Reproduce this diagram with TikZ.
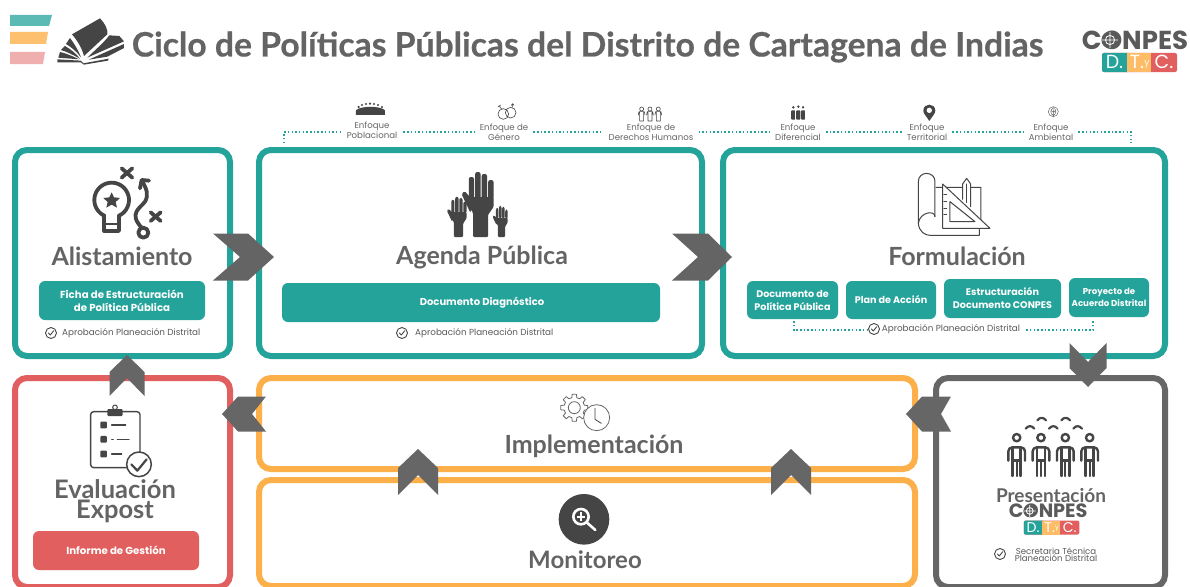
\documentclass[tikz,border=0pt]{standalone}
\usepackage{fontspec}
\setmainfont{Poppins}
\newfontfamily\hd{Lato}
\newfontfamily\hdt[BoldFeatures={FakeBold=0.5}]{Lato}
\definecolor{tealb}{HTML}{24A39B}
\definecolor{redb}{HTML}{E15F5F}
\definecolor{orab}{HTML}{FDB04A}
\definecolor{greyb}{HTML}{666666}
\definecolor{dark}{HTML}{454545}
\definecolor{headc}{HTML}{646464}
\definecolor{smallc}{HTML}{5A5A5A}
\tikzset{
  bigbox/.style={draw,line width=6pt,rounded corners=12pt,fill=none,inner sep=0pt},
  smallbox/.style={rounded corners=6pt,text=white,align=center,inner sep=0pt,font=\bfseries\fontsize{9.6}{13}\selectfont},
  heading/.style={text=headc,inner sep=0pt,font=\hd\bfseries\fontsize{25}{25}\selectfont},
  approval/.style={text=smallc,inner sep=0pt,font=\fontsize{8.8}{9}\selectfont},
  enfoque/.style={text=greyb,inner sep=0pt,align=center,font=\fontsize{8.6}{8.2}\selectfont},
  dots/.style={tealb,line width=1.5pt,dash pattern=on 1.5pt off 2.2pt},
  zoomat/.style 2 args={shift={(#1,#2)},x=.3333pt,y=-.3333pt},
  icon/.style={draw=dark,line width=#1,line cap=round,line join=round},
}
\newcommand{\chev}[7]{% anchor, rotation, tail, tip, half height, notch, colour
  \begin{scope}[shift={(#1)},rotate=#2]
    \fill[#7] (-#3,#5) -- (0,#5) -- (#4,0) -- (0,-#5) -- (-#3,-#5) -- ({-#3+#6},0) -- cycle;
  \end{scope}}
\newcommand{\chk}[2]{%
  \draw[icon=.9pt,fill=white] (#1,#2) circle[radius=5.5];
  \draw[icon=.9pt] (#1-2.6,#2) -- (#1-.7,#2+2) -- (#1+2.8,#2-2.4);}
\newcommand{\conpes}[4]{%
  \begin{scope}[shift={(#1,#2)},scale=#3]
    \node[anchor=center,inner sep=0pt,transform shape,text=smallc,font=\bfseries\fontsize{26}{26}\selectfont] (#4t) at (53,8) {CONPES};
    \fill[smallc] (28,8) circle[radius=8.6];
    \draw[white,line width=.8pt] (28,8) circle[radius=4.6] (20,8) -- (36,8) (28,0) -- (28,16);
    \fill[redb,rounded corners=2pt] (20,21) rectangle (95,40);
    \fill[tealb,rounded corners=2pt] (20,21) rectangle (48,40);
    \fill[orab!85!white] (45,21) rectangle (69,40);
    \node[transform shape,text=white,inner sep=0pt,font=\fontsize{19}{19}\selectfont] (#4a) at (32.5,30) {D.};
    \node[transform shape,text=white,inner sep=0pt,font=\fontsize{19}{19}\selectfont] (#4b) at (55,30) {T.};
    \node[transform shape,text=white,inner sep=0pt,font=\fontsize{9}{9}\selectfont] (#4c) at (65,32) {y};
    \node[transform shape,text=white,inner sep=0pt,font=\fontsize{19}{19}\selectfont] (#4d) at (82,30) {C.};
  \end{scope}}
\newcommand{\hand}[3]{%
  \begin{scope}[shift={(#1,#2)},scale=#3]
    \fill[dark,rounded corners=1pt] (-7.5,0) -- (-7.5,-24) -- (-12,-32) -- (-12,-40) -- (13,-40) -- (13,-30) -- (7.5,-22) -- (7.5,0) -- cycle;
    \fill[dark,rounded corners=1.5pt] (-10,-24) -- (-19,-43) -- (-16,-46) -- (-7,-36) -- cycle;
    \fill[dark,rounded corners=2pt] (-11.7,-38) rectangle (-6.5,-60);
    \fill[dark,rounded corners=2pt] (-5.3,-38) rectangle (0,-65);
    \fill[dark,rounded corners=2pt] (1.2,-38) rectangle (6.5,-63);
    \fill[dark,rounded corners=2pt] (7.7,-38) rectangle (13,-57);
  \end{scope}}
\newcommand{\person}[1]{%
  \begin{scope}[shift={(#1,0)}]
    \draw[icon=2.4pt] (0,203) circle[radius=11];
    \draw[icon=2.4pt,rounded corners=4pt] (-25,272) -- (-25,232) -- (25,232) -- (25,272);
    \draw[icon=2.4pt] (-12,236) -- (-12,318) (12,236) -- (12,318) (-12,272) -- (12,272);
    \draw[icon=2.2pt] (0,272) -- (0,318);
  \end{scope}}
\begin{document}
\begin{tikzpicture}[x=1pt,y=-1pt]
\useasboundingbox (0,0) rectangle (1190,586);
\clip (0,0) rectangle (1190,586);
\fill[white] (0,0) rectangle (1190,586);
% header bars
\fill[tealb!75!white] (10,15) -- (52,15) -- (49,26) -- (10,26) -- cycle;
\fill[orab!80!white] (10,32) -- (48,32) -- (46,44) -- (10,44) -- cycle;
\fill[redb!50!white] (10,52) -- (45,52) -- (43,64) -- (10,64) -- cycle;
% book
\begin{scope}[zoomat={50}{10}]
  \fill[dark] (66,73) -- (150,25) .. controls (165,40) and (175,60) .. (172,73) -- (102,138) .. controls (95,112) and (82,92) .. (66,73) -- cycle;
  \fill[dark] (178,76) -- (208,78) -- (222,94) -- (112,143) .. controls (135,120) and (160,100) .. (178,76) -- cycle;
  \fill[dark] (222,102) -- (222,114) -- (172,140) -- (116,149) -- cycle;
  \fill[dark] (60,84) .. controls (72,100) and (85,120) .. (93,142) .. controls (80,125) and (65,112) .. (48,102) -- cycle;
  \fill[dark] (45,108) .. controls (62,118) and (78,130) .. (90,146) .. controls (70,135) and (50,125) .. (33,120) -- cycle;
  \fill[dark] (30,126) .. controls (50,130) and (70,140) .. (88,148) -- (25,143) -- cycle;
  \fill[dark] (22,148) -- (92,152) -- (100,160) -- (176,146) -- (174,152) -- (102,164) -- (92,157) -- (22,157) -- cycle;
\end{scope}
\node[anchor=center,inner sep=0pt,text=headc,font=\hdt\bfseries\fontsize{33.7}{33.7}\selectfont] (title) at (587.5,47) {Ciclo de Políticas Públicas del Distrito de Cartagena de Indias};
\conpes{1082}{32}{1}{lg}
% big boxes
\node[bigbox,draw=tealb,minimum width=215pt,minimum height=206pt] (alist) at (122.5,253) {};
\node[bigbox,draw=tealb,minimum width=443pt,minimum height=206pt] (agenda) at (480.5,253) {};
\node[bigbox,draw=tealb,minimum width=442pt,minimum height=206pt] (form) at (944,253) {};
\node[bigbox,draw=redb,minimum width=215pt,minimum height=209pt] (eval) at (122.5,482.5) {};
\node[bigbox,draw=orab,minimum width=656pt,minimum height=91pt] (impl) at (587,423.5) {};
\node[bigbox,draw=orab,minimum width=656pt,minimum height=106pt] (moni) at (587,533) {};
\node[bigbox,draw=greyb,minimum width=229pt,minimum height=209pt] (pres) at (1050.5,482.5) {};
% enfoques
\node[enfoque] (e1) at (372,130) {Enfoque\\Poblacional};
\node[enfoque] (e2) at (504,132) {Enfoque de\\Género};
\node[enfoque] (e3) at (651,132) {Enfoque de\\Derechos Humanos};
\node[enfoque] (e4) at (798,132) {Enfoque\\Diferencial};
\node[enfoque] (e5) at (927,132) {Enfoque\\Territorial};
\node[enfoque] (e6) at (1051,132) {Enfoque\\Ambiental};
\coordinate (dl) at (284,143);
\coordinate (dr) at (1131,143);
\draw[dots] (dl) -- (dl |- e2.east) -- ([xshift=-5pt]e1.west |- e2.east);
\draw[dots] ([xshift=6pt]e1.east |- e2.east) -- ([xshift=-5pt]e2.west);
\draw[dots] ([xshift=5pt]e2.east) -- ([xshift=-5pt]e3.west);
\draw[dots] ([xshift=5pt]e3.east) -- ([xshift=-5pt]e4.west);
\draw[dots] ([xshift=5pt]e4.east) -- ([xshift=-5pt]e5.west);
\draw[dots] ([xshift=5pt]e5.east) -- ([xshift=-5pt]e6.west);
\draw[dots] ([xshift=5pt]e6.east) -- (dr |- e6.east) -- (dr);
% small enfoque icons
\begin{scope}[zoomat={270}{95}]
  \fill[dark] (258,60) -- (258,46) .. controls (270,32) and (333,32) .. (345,46) -- (345,60) -- cycle;
  \foreach \hx/\hy in {266/36,276/30,288/27,300/26,312/27,324/30,336/36} \fill[dark] (\hx,\hy) circle[radius=3.6];
  \draw[icon=.6pt] (700,57) circle[radius=16] (722,53) circle[radius=16];
  \draw[icon=.6pt] (728,37) -- (728,26) (724,31) -- (728,26) -- (732,31);
  \draw[icon=.6pt] (695,42) -- (688,33) (684,36) -- (692,30);
  \foreach \px in {1115,1140,1165}{
    \draw[icon=.6pt] (\px,42) circle[radius=6];
    \draw[icon=.6pt] (\px-10,60) -- (\px-8,50) -- (\px+8,50) -- (\px+10,60) (\px-6,52) -- (\px-6,78) -- (\px+6,78) -- (\px+6,52);
  }
\end{scope}
\begin{scope}[zoomat={700}{95}]
  \foreach \px/\py in {280/0,295/-2,309/0}{
    \fill[dark,rounded corners=1pt] (\px-7,46) rectangle (\px+7,74);
    \fill[dark] (\px,37+\py) circle[radius=4];
    \draw[white,line width=.4pt] (\px+7,46) -- (\px+7,74);
  }
  \fill[dark] (688,78) .. controls (678,62) and (670,56) .. (670,47) .. controls (670,23) and (706,23) .. (706,47) .. controls (706,56) and (698,62) .. (688,78) -- cycle;
  \fill[white] (688,46) circle[radius=8];
  \draw[icon=.5pt,draw=greyb] (1060,50) circle[radius=15];
  \draw[icon=.5pt,draw=greyb] (1060,38) .. controls (1072,46) and (1068,56) .. (1060,62) .. controls (1052,56) and (1048,46) .. (1060,38) -- cycle (1060,44) -- (1060,66) (1060,52) -- (1066,47) (1060,52) -- (1054,47);
\end{scope}
% Alistamiento
\begin{scope}[zoomat={0}{150}]
  \draw[icon=3.8pt] plot[domain=115:425,samples=40] ({335+52*cos(\x)},{150+52*sin(\x)});
  \draw[icon=3.8pt] (313,197) -- (313,243) -- (357,243) -- (357,197);
  \draw[icon=2.4pt] (313,222) -- (357,222);
  \fill[dark] (335,127) -- (342,142) -- (360,144) -- (347,156) -- (351,173) -- (335,164) -- (319,173) -- (323,156) -- (310,144) -- (328,142) -- cycle;
  \draw[icon=3.8pt] (365,55) -- (397,83) (397,55) -- (365,83);
  \draw[icon=3.8pt] (452,187) -- (482,213) (482,187) -- (452,213);
  \draw[icon=3.8pt] (430,248) circle[radius=15];
  \draw[icon=3.8pt] (425,233) .. controls (385,190) and (420,175) .. (435,155) .. controls (447,135) and (440,115) .. (425,92);
  \draw[icon=3.8pt] (420,115) -- (425,90) -- (447,92);
\end{scope}
\node[heading] (t1) at (122,256) {Alistamiento};
\node[smallbox,fill=tealb,minimum width=166pt,minimum height=39pt,font=\bfseries\fontsize{10.2}{13.2}\selectfont] (b1) at (122,300.5) {Ficha de Estructuración\\de Política Pública};
\chk{51}{333}
\node[approval,anchor=west] (a1) at (62,333) {Aprobación Planeación Distrital};
% Agenda
\hand{480.5}{237}{1}
\hand{458.5}{237}{.62}
\hand{501.5}{237}{.48}
\node[heading] (t2) at (482,257) {Agenda Pública};
\node[smallbox,fill=tealb,minimum width=378pt,minimum height=39pt,font=\bfseries\fontsize{10}{13}\selectfont] (b2) at (471,302.5) {\hspace{22pt}Documento Diagnóstico};
\chk{402}{333}
\node[approval,anchor=west] (a2) at (415,333) {Aprobación Planeación Distrital};
% Formulacion
\begin{scope}[zoomat={720}{160}]
  \draw[icon=1pt] (595,190) -- (595,65) .. controls (595,32) and (645,32) .. (645,65) -- (645,170);
  \draw[icon=1pt] (595,190) .. controls (600,155) and (645,150) .. (645,170) (595,190) .. controls (597,215) and (615,226) .. (630,226) -- (778,226) -- (778,208) (648,82) -- (783,82) -- (783,205);
  \draw[icon=1pt,fill=white] (668,72) -- (810,205) -- (668,205) -- cycle (690,125) -- (765,185) -- (690,185) -- cycle;
  \draw[icon=1pt] (672,125) -- (680,125) (672,145) -- (680,145) (672,165) -- (680,165) (672,105) -- (680,105);
  \draw[icon=1pt,fill=white] (728,118) -- (728,72) -- (740,55) -- (752,72) -- (752,140);
  \draw[icon=1pt] (740,72) -- (740,128);
\end{scope}
\node[heading] (t3) at (957,256) {Formulación};
\node[smallbox,fill=tealb,minimum width=91pt,minimum height=38pt] (f1) at (792.5,300) {Documento de\\Política Pública};
\node[smallbox,fill=tealb,minimum width=90pt,minimum height=38pt] (f2) at (891,300) {Plan de Acción};
\node[smallbox,fill=tealb,minimum width=117pt,minimum height=39pt] (f3) at (1002.5,298.5) {Estructuración\\Documento CONPES};
\node[smallbox,fill=tealb,minimum width=80pt,minimum height=39pt,font=\bfseries\fontsize{8.6}{11.5}\selectfont] (f4) at (1109,297.5) {Proyecto de\\Acuerdo Distrital};
\chk{874}{329}
\node[approval,anchor=center] (a3) at (951,329) {Aprobación Planeación Distrital};
\draw[dots] ([yshift=-2pt]f1.south -| 794,0) -- (794,330) -- ([xshift=-14pt]a3.west |- 0,330);
\draw[dots] ([xshift=6pt]a3.east |- 0,330) -- (1093,330) -- ([yshift=-4pt]f4.south -| 1093,0);
% Evaluacion
\begin{scope}[zoomat={0}{370}]
  \draw[icon=1.4pt,rounded corners=3pt] (272,125) rectangle (420,293);
  \draw[icon=1pt] (345,112) circle[radius=7];
  \fill[dark,rounded corners=1pt] (322,117) rectangle (368,138);
  \foreach \ly in {165,208,252} \fill[dark,rounded corners=1pt] (301,\ly-10) rectangle (321,\ly+10);
  \draw[icon=1.3pt] (335,165) -- (377,165) (335,208) -- (340,208) (352,208) -- (387,208) (335,252) -- (365,252);
  \draw[icon=1.5pt,fill=white] (417,283) circle[radius=37];
  \draw[icon=2.2pt] (394,283) -- (412,302) -- (440,268);
\end{scope}
\node[heading,align=center,font=\hd\bfseries\fontsize{25.5}{18.5}\selectfont] (t4) at (115,501) {Evaluación\\Expost};
\node[smallbox,fill=redb,minimum width=166pt,minimum height=39pt,font=\bfseries\fontsize{10.2}{13}\selectfont] (b4) at (116,550.5) {Informe de Gestión};
% Implementacion
\begin{scope}[zoomat={380}{380}]
  \begin{scope}[shift={(583,83)}]
    \draw[icon=.8pt,draw=greyb] (-14:31) \foreach \g in {0,45,...,315} { -- (\g-14:31) -- (\g-9:41) -- (\g+9:41) -- (\g+14:31) } -- cycle;
    \draw[icon=.8pt,draw=greyb] (0,0) circle[radius=18];
  \end{scope}
  \draw[icon=.8pt,draw=greyb,fill=white] (650,113) circle[radius=39];
  \draw[icon=.8pt,draw=dark] (645,85) -- (645,118) -- (664,130);
  \fill[dark] (612,418) circle[radius=76];
  \draw[white,line width=2.6pt] (603,410) circle[radius=23];
  \draw[white,line width=2pt] (590,410) -- (616,410) (603,397) -- (603,423);
  \draw[white,line width=2.6pt,line cap=round] (621,428) -- (646,450);
\end{scope}
\node[heading] (t5) at (594,446) {Implementación};
\node[heading,font=\hd\bfseries\fontsize{24}{24}\selectfont] (t6) at (585,560) {Monitoreo};
% Presentacion
\begin{scope}[zoomat={920}{370}]
  \foreach \px in {290,363,436,509} {\person{\px}}
  \foreach \ax/\ay in {330/176,365/151,400/176,437/151,473/176}
    \draw[icon=2.2pt] (\ax-13,\ay) .. controls (\ax-5,\ay-10) and (\ax+5,\ay-10) .. (\ax+13,\ay);
\end{scope}
\node[heading,font=\hd\bfseries\fontsize{19}{19}\selectfont] (t7) at (1051,496) {Presentación};
\conpes{1009}{505}{.74}{ls}
\chk{1000}{554}
\node[enfoque,text=smallc,font=\fontsize{8.6}{7.6}\selectfont] (a7) at (1056,554.5) {Secretaria Técnica\\Planeación Distrital};
% chevron connectors
\chev{[xshift=15pt,yshift=-4pt]alist.east}{0}{35}{26}{23.5}{27}{headc}
\chev{[xshift=3pt,yshift=-4pt]agenda.east}{0}{36}{24}{23.5}{26}{headc}
\chev{[xshift=37.5pt,yshift=7pt]pres.north}{-90}{25}{19}{18.5}{19}{greyb}
\chev{[xshift=4pt,yshift=9.5pt]impl.east}{180}{29}{16}{17.5}{10}{greyb}
\chev{[xshift=-18pt,yshift=9.5pt]impl.west}{180}{28}{16}{17.5}{14}{greyb}
\chev{[xshift=4.5pt,yshift=3pt]eval.north}{90}{24}{17}{17.5}{18}{greyb}
\chev{[xshift=-169pt,yshift=9pt]moni.north}{90}{27}{19}{20}{20}{greyb}
\chev{[xshift=204pt,yshift=9pt]moni.north}{90}{27}{19}{20}{20}{greyb}
\end{tikzpicture}
\end{document}
